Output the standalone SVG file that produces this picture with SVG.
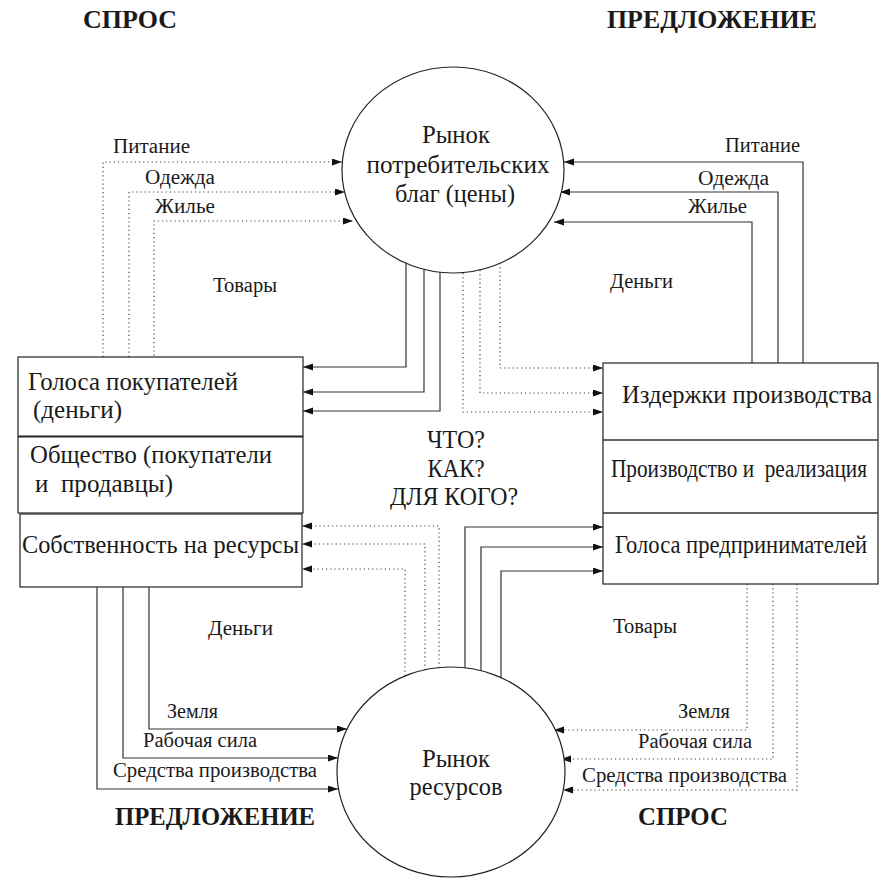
<svg xmlns="http://www.w3.org/2000/svg" width="883" height="880" viewBox="0 0 883 880" font-family="'Liberation Serif', 'Times New Roman', 'DejaVu Serif', serif">
<style>
text{font-family:'Liberation Serif','Times New Roman','DejaVu Serif',serif;fill:#1a1a1a}
.t{font-size:25px}
.l{font-size:20px}
.b{font-size:25px;font-weight:bold}
.m{text-anchor:middle}
.box{fill:#fff;stroke:#333;stroke-width:1.3}
.node{fill:#fff;stroke:#222;stroke-width:1.2}
.s{fill:none;stroke:#333;stroke-width:1.2;marker-end:url(#ah)}
.d{fill:none;stroke:#444;stroke-width:1.2;stroke-dasharray:1.2 3;marker-end:url(#ah)}
</style>
<defs>
<marker id="ah" markerUnits="userSpaceOnUse" markerWidth="11" markerHeight="8" refX="10" refY="3.5" orient="auto">
<path d="M0,0 L10,3.5 L0,7 z" fill="#111"/>
</marker>
</defs>
<rect width="883" height="880" fill="#fff"/>

<g id="titles">
<text class="b" x="83" y="28" textLength="94" lengthAdjust="spacingAndGlyphs">СПРОС</text>
<text class="b" x="607" y="28" textLength="210" lengthAdjust="spacingAndGlyphs">ПРЕДЛОЖЕНИЕ</text>
<text class="b" x="115" y="825" textLength="200" lengthAdjust="spacingAndGlyphs">ПРЕДЛОЖЕНИЕ</text>
<text class="b" x="638" y="825" textLength="90" lengthAdjust="spacingAndGlyphs">СПРОС</text>
</g>

<g id="connectors">
<path class="d" d="M103,357 V162 H342"/>
<path class="d" d="M129,357 V192 H345"/>
<path class="d" d="M154,360 V221 H353"/>
<path class="s" d="M803,363 V162 H564"/>
<path class="s" d="M778,363 V192 H560"/>
<path class="s" d="M752,363 V222 H554"/>
<path class="s" d="M406,263 V367 H303"/>
<path class="s" d="M424,269 V392 H303"/>
<path class="s" d="M440,272 V411 H303"/>
<path class="d" d="M500,263 V368 H603"/>
<path class="d" d="M480,270 V393 H603"/>
<path class="d" d="M463,273 V412 H603"/>
<path class="d" d="M439,668 V526 H302"/>
<path class="d" d="M425,670 V544 H302"/>
<path class="d" d="M405,676 V569 H302"/>
<path class="s" d="M465,668 V527 H603"/>
<path class="s" d="M481,671 V547 H603"/>
<path class="s" d="M501,678 V571 H603"/>
<path class="s" d="M149,587 V729 H347"/>
<path class="s" d="M123,587 V758 H338"/>
<path class="s" d="M97,587 V789 H338"/>
<path class="d" d="M747,584 V730 H554"/>
<path class="d" d="M773,584 V759 H561"/>
<path class="d" d="M797,584 V790 H563"/>
</g>

<g id="edge-labels">
<text class="l" x="113" y="153" textLength="77" lengthAdjust="spacingAndGlyphs">Питание</text>
<text class="l" x="145" y="184" textLength="70" lengthAdjust="spacingAndGlyphs">Одежда</text>
<text class="l" x="155" y="213" textLength="60" lengthAdjust="spacingAndGlyphs">Жилье</text>
<text class="l" x="213" y="292" textLength="64" lengthAdjust="spacingAndGlyphs">Товары</text>
<text class="l" x="725" y="152" textLength="75" lengthAdjust="spacingAndGlyphs">Питание</text>
<text class="l" x="698" y="185" textLength="71" lengthAdjust="spacingAndGlyphs">Одежда</text>
<text class="l" x="688" y="213" textLength="59" lengthAdjust="spacingAndGlyphs">Жилье</text>
<text class="l" x="610" y="288" textLength="63" lengthAdjust="spacingAndGlyphs">Деньги</text>
<text class="l" x="208" y="635" textLength="65" lengthAdjust="spacingAndGlyphs">Деньги</text>
<text class="l" x="167" y="718" textLength="51" lengthAdjust="spacingAndGlyphs">Земля</text>
<text class="l" x="143" y="747" textLength="114" lengthAdjust="spacingAndGlyphs">Рабочая сила</text>
<text class="l" x="113" y="777" textLength="204" lengthAdjust="spacingAndGlyphs">Средства производства</text>
<text class="l" x="613" y="633" textLength="64" lengthAdjust="spacingAndGlyphs">Товары</text>
<text class="l" x="678" y="718" textLength="52" lengthAdjust="spacingAndGlyphs">Земля</text>
<text class="l" x="638" y="748" textLength="114" lengthAdjust="spacingAndGlyphs">Рабочая сила</text>
<text class="l" x="582" y="782" textLength="205" lengthAdjust="spacingAndGlyphs">Средства производства</text>
</g>

<g id="consumer-market">
<ellipse class="node" cx="453" cy="170" rx="111" ry="103"/>
<text class="t m" x="456" y="143" textLength="68" lengthAdjust="spacingAndGlyphs">Рынок</text>
<text class="t m" x="458" y="173" textLength="183" lengthAdjust="spacingAndGlyphs">потребительских</text>
<text class="t m" x="455" y="202" textLength="120" lengthAdjust="spacingAndGlyphs">благ (цены)</text>
</g>

<g id="resource-market">
<ellipse class="node" cx="451" cy="772" rx="114" ry="105"/>
<text class="t m" x="456" y="767" textLength="68" lengthAdjust="spacingAndGlyphs">Рынок</text>
<text class="t m" x="456" y="795" textLength="93" lengthAdjust="spacingAndGlyphs">ресурсов</text>
</g>

<g id="society">
<rect class="box" x="18" y="357" width="285" height="156"/>
<line x1="18" y1="436.5" x2="303" y2="436.5" stroke="#222" stroke-width="2.2"/>
<text class="t" x="28" y="390" textLength="210" lengthAdjust="spacingAndGlyphs">Голоса покупателей</text>
<text class="t" x="33" y="418" textLength="89" lengthAdjust="spacingAndGlyphs">(деньги)</text>
<text class="t" x="30" y="463" textLength="242" lengthAdjust="spacingAndGlyphs">Общество (покупатели</text>
<text class="t" x="35" y="492" xml:space="preserve" textLength="138" lengthAdjust="spacingAndGlyphs">и  продавцы)</text>
</g>

<g id="property">
<rect class="box" x="20" y="514" width="282" height="73"/>
<text class="t" x="22" y="553" textLength="277" lengthAdjust="spacingAndGlyphs">Собственность на ресурсы</text>
</g>

<g id="firms">
<rect class="box" x="603" y="363" width="275" height="221"/>
<line x1="603" y1="440" x2="878" y2="440" stroke="#333" stroke-width="1.3"/>
<line x1="603" y1="513" x2="878" y2="513" stroke="#333" stroke-width="1.3"/>
<text class="t" x="622" y="403" textLength="250" lengthAdjust="spacingAndGlyphs">Издержки производства</text>
<text class="t" x="611" y="477" xml:space="preserve" textLength="256" lengthAdjust="spacingAndGlyphs">Производство и  реализация</text>
<text class="t" x="615" y="553" textLength="252" lengthAdjust="spacingAndGlyphs">Голоса предпринимателей</text>
</g>

<g id="questions">
<text class="t m" x="456" y="448" textLength="58" lengthAdjust="spacingAndGlyphs">ЧТО?</text>
<text class="t m" x="456" y="477" textLength="57" lengthAdjust="spacingAndGlyphs">КАК?</text>
<text class="t m" x="454" y="505" textLength="128" lengthAdjust="spacingAndGlyphs">ДЛЯ КОГО?</text>
</g>
</svg>
